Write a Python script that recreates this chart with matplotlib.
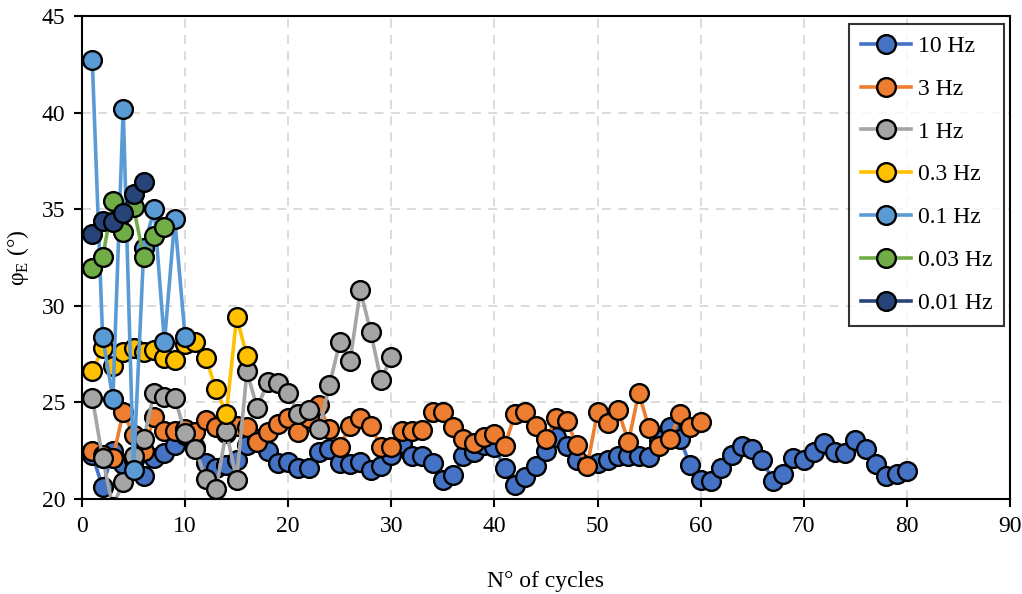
import numpy as np
import matplotlib
matplotlib.use("Agg")
import matplotlib.pyplot as plt

plt.rcParams["font.family"] = ["Liberation Serif", "DejaVu Serif"]
plt.rcParams["mathtext.fontset"] = "custom"
plt.rcParams["mathtext.rm"] = "Liberation Serif"

# =====================================================
# DATA
# =====================================================
phi_10hz = [22.3, 20.6, 22.5, 21.8, 22.0, 21.2, 22.1, 22.4, 22.8, 23.3,
            22.7, 21.85, 21.6, 21.75, 22.0, 22.8, 23.1, 22.5, 21.85, 21.9,
            21.6, 21.6, 22.45, 22.6, 21.85, 21.8, 21.9, 21.5, 21.7, 22.3,
            22.9, 22.2, 22.2, 21.85, 21.0, 21.25, 22.2, 22.45, 22.8, 22.7,
            21.6, 20.7, 21.15, 21.7, 22.5, 23.2, 22.75, 22.0, 21.75, 21.85,
            22.0, 22.2, 22.2, 22.2, 22.15, 23.05, 23.75, 23.1, 21.75, 21.0,
            20.95, 21.6, 22.3, 22.75, 22.6, 22.0, 20.95, 21.3, 22.1, 22.0,
            22.45, 22.9, 22.45, 22.4, 23.05, 22.6, 21.8, 21.2, 21.3, 21.45]
phi_3hz = [22.5, 22.3, 22.1, 24.5, 23.3, 22.5, 24.25, 23.5, 23.5, 23.6,
           23.45, 24.1, 23.7, 23.4, 23.8, 23.7, 22.95, 23.45, 23.9, 24.2,
           23.45, 24.2, 24.85, 23.6, 22.7, 23.8, 24.2, 23.8, 22.7, 22.7,
           23.5, 23.5, 23.55, 24.5, 24.5, 23.75, 23.1, 22.9, 23.2, 23.35,
           22.75, 24.4, 24.5, 23.8, 23.1, 24.2, 24.05, 22.8, 21.7, 24.5,
           23.95, 24.6, 22.95, 25.5, 23.65, 22.75, 23.1, 24.4, 23.75, 24.0]
phi_1hz = [25.25, 22.1, 19.6, 20.9, 22.2, 23.1, 25.5, 25.3, 25.25, 23.4,
           22.6, 21.05, 20.5, 23.5, 21.0, 26.6, 24.7, 26.05, 26.0, 25.5,
           24.4, 24.6, 23.6, 25.9, 28.1, 27.15, 30.8, 28.65, 26.15, 27.35]
phi_03hz = [26.6, 27.8, 26.9, 27.6, 27.8, 27.6, 27.7, 27.3, 27.2, 28.0,
            28.1, 27.3, 25.7, 24.4, 29.4, 27.4]
phi_01hz = [42.7, 28.4, 25.2, 40.2, 21.5, 33.0, 35.0, 28.1, 34.5, 28.4]
phi_003hz = [31.95, 32.5, 35.4, 33.8, 35.1, 32.5, 33.6, 34.1]
phi_001hz = [33.7, 34.4, 34.35, 34.8, 35.8, 36.4]

labels = ["10 Hz", "3 Hz", "1 Hz", "0.3 Hz", "0.1 Hz", "0.03 Hz", "0.01 Hz"]
series = [phi_10hz, phi_3hz, phi_1hz, phi_03hz, phi_01hz, phi_003hz, phi_001hz]
colors = ["#4472C4", "#ED7D31", "#A5A5A5", "#FFC000", "#5B9BD5", "#70AD47", "#264478"]

# =====================================================
# PLOT
# =====================================================
fig = plt.figure(figsize=(10.22, 5.94), dpi=100)
ax = fig.add_axes([0.0802, 0.160, 0.908, 0.813])

for vals, lab, col in zip(series, labels, colors):
    cycles = np.arange(1, len(vals) + 1)
    ax.plot(cycles, vals, "-o", color=col, lw=2.6, ms=13.5,
            mfc=col, mec="black", mew=1.7, label=lab)

ax.set_xlim(0, 90)
ax.set_ylim(20, 45)
ax.set_xticks(np.arange(0, 91, 10))
ax.set_yticks(np.arange(20, 46, 5))
ax.grid(True, color="#D9D9D9", ls=(0, (5, 4)), lw=1.3)
ax.set_axisbelow(True)

for sp in ax.spines.values():
    sp.set_linewidth(1.5)
    sp.set_color("black")

ax.tick_params(direction="out", length=6, width=1.5, labelsize=17, pad=6)
ax.set_xlabel("N° of cycles", fontsize=17, labelpad=25)
ax.set_ylabel("φ$_{\\mathrm{E}}$ (°)", fontsize=17, labelpad=8)

leg = ax.legend(loc="upper right", fontsize=17, frameon=True, fancybox=False,
                edgecolor="black", handlelength=2.1, labelspacing=0.9,
                borderpad=0.5, handletextpad=0.3, borderaxespad=0,
                bbox_to_anchor=(0.9935, 0.984))
leg.get_frame().set_linewidth(1.5)

plt.savefig("out.png", dpi=100)
